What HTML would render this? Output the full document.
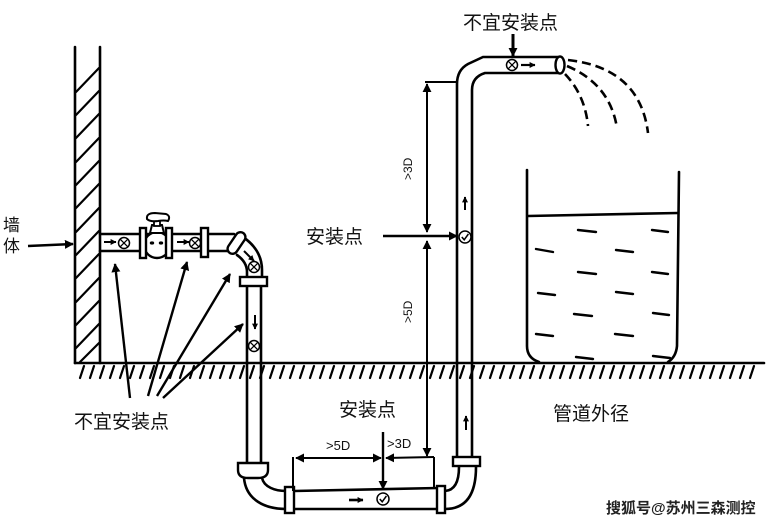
<!DOCTYPE html>
<html><head><meta charset="utf-8"><style>
html,body{margin:0;padding:0;background:#fff;}
svg{display:block;}
text{font-family:"Liberation Sans","Noto Sans CJK SC",sans-serif;fill:#111;}
</style></head><body>
<svg width="776" height="523" viewBox="0 0 776 523" xmlns="http://www.w3.org/2000/svg">
<defs>
<marker id="a" viewBox="0 0 10 10" refX="9" refY="5" markerWidth="9" markerHeight="9" markerUnits="userSpaceOnUse" orient="auto-start-reverse"><path d="M0,0 L10,5 L0,10 z" fill="#000"/></marker>
<marker id="s" viewBox="0 0 10 10" refX="9" refY="5" markerWidth="6" markerHeight="6" markerUnits="userSpaceOnUse" orient="auto-start-reverse"><path d="M0,0 L10,5 L0,10 z" fill="#000"/></marker>
<g id="cx"><circle cx="0" cy="0" r="5.5" fill="#fff" stroke="#000" stroke-width="1.5"/><path d="M-3.6,-3.6 L3.6,3.6 M3.6,-3.6 L-3.6,3.6" stroke="#000" stroke-width="1.3"/></g>
<g id="ck"><circle cx="0" cy="0" r="6" fill="#fff" stroke="#000" stroke-width="1.5"/><path d="M-3.2,0 L-0.8,2.8 L3.4,-3" fill="none" stroke="#000" stroke-width="1.5"/></g>
</defs>

<g stroke="#000" stroke-width="2.6" fill="none" stroke-linecap="round">
<!-- wall -->
<line x1="75" y1="47" x2="75" y2="363"/>
<line x1="100" y1="47" x2="100" y2="363"/>
<path stroke-width="2.2" d="M76 92 L99 68 M76 115 L99 91 M76 138 L99 114 M76 162 L99 138 M76 185 L99 161 M76 208 L99 184 M76 232 L99 208 M76 255 L99 231 M76 278 L99 254 M76 302 L99 278 M76 325 L99 301 M76 348 L99 324 M80 362 L99 343"/>
<!-- ground -->
<line x1="75" y1="363" x2="764" y2="363"/>
<path stroke-width="2.2" d="M84 366 L80 378 M94 366 L90 378 M104 366 L100 378 M114 366 L110 378 M124 366 L120 378 M134 366 L130 378 M144 366 L140 378 M154 366 L150 378 M164 366 L160 378 M174 366 L170 378 M184 366 L180 378 M194 366 L190 378 M204 366 L200 378 M214 366 L210 378 M224 366 L220 378 M234 366 L230 378 M244 366 L240 378 M254 366 L250 378 M264 366 L260 378 M274 366 L270 378 M284 366 L280 378 M294 366 L290 378 M304 366 L300 378 M314 366 L310 378 M324 366 L320 378 M334 366 L330 378 M344 366 L340 378 M354 366 L350 378 M364 366 L360 378 M374 366 L370 378 M384 366 L380 378 M394 366 L390 378 M404 366 L400 378 M414 366 L410 378 M424 366 L420 378 M434 366 L430 378 M444 366 L440 378 M454 366 L450 378 M464 366 L460 378 M474 366 L470 378 M484 366 L480 378 M494 366 L490 378 M504 366 L500 378 M514 366 L510 378 M524 366 L520 378 M534 366 L530 378 M544 366 L540 378 M554 366 L550 378 M564 366 L560 378 M574 366 L570 378 M584 366 L580 378 M594 366 L590 378 M604 366 L600 378 M614 366 L610 378 M624 366 L620 378 M634 366 L630 378 M644 366 L640 378 M654 366 L650 378 M664 366 L660 378 M674 366 L670 378 M684 366 L680 378 M694 366 L690 378 M704 366 L700 378 M714 366 L710 378 M724 366 L720 378 M734 366 L730 378 M744 366 L740 378 M754 366 L750 378"/>

<!-- horizontal pipe near wall -->
<line x1="100" y1="234" x2="234" y2="234"/>
<line x1="100" y1="251" x2="232" y2="251"/>
</g>

<!-- meter -->
<g stroke="#000" stroke-width="2.4" fill="#fff">
<circle cx="157" cy="245" r="13"/>
<rect x="140" y="228" width="6" height="30"/>
<rect x="166" y="228" width="6" height="30"/>
<rect x="201" y="228" width="7" height="29"/>
<path d="M150 233 L152 225 L162 225 L164 233 Z" stroke-width="2"/>
<rect x="154" y="219" width="6" height="7" stroke-width="1.8"/>
<path d="M147 219 Q146 213 155 213 L166 214 Q171 216 168 221 Q164 220 158 221 Q150 222 147 219 Z" stroke-width="2"/>
</g>
<ellipse cx="152" cy="243" rx="2.2" ry="1.6" fill="#000"/>
<ellipse cx="161" cy="243" rx="2.2" ry="1.6" fill="#000"/>

<g stroke="#000" stroke-width="2" fill="none">
<line x1="104" y1="242" x2="116" y2="242" marker-end="url(#s)"/>
<line x1="177" y1="242" x2="189" y2="242" marker-end="url(#s)"/>
</g>
<use href="#cx" x="124" y="243"/>
<use href="#cx" x="195" y="243"/>

<!-- elbow top-left -->
<g stroke="#000" stroke-width="2.6" fill="none" stroke-linecap="round">
<path d="M243 237 Q262 250 262 270 L262 278"/>
<path d="M237 255 Q247 262 247 272 L247 278"/>
<line x1="247" y1="286" x2="247" y2="463"/>
<line x1="261" y1="286" x2="261" y2="463"/>
</g>
<rect x="-5" y="-12" width="10" height="24" rx="5" transform="translate(236.5 243) rotate(34)" fill="#fff" stroke="#000" stroke-width="2.4"/>
<line x1="244" y1="251" x2="254" y2="261" stroke="#000" stroke-width="2" marker-end="url(#s)"/>
<use href="#cx" x="254" y="267"/>
<rect x="240" y="277" width="27" height="9" fill="#fff" stroke="#000" stroke-width="2.4"/>
<line x1="255" y1="315" x2="255" y2="329" stroke="#000" stroke-width="2" marker-end="url(#s)"/>
<use href="#cx" x="254" y="346"/>

<!-- bottom pipe -->
<g stroke="#000" stroke-width="2.6" fill="none" stroke-linecap="round">
<path d="M244 478 C246 500 265 509 286 509"/>
<path d="M262 478 C264 487 275 491 286 491"/>
<line x1="294" y1="491" x2="438" y2="488"/>
<line x1="294" y1="509" x2="438" y2="509"/>
<path d="M445 509 Q476 509 476 467"/>
<path d="M445 491 Q459 490 459 467"/>
<!-- right vertical & top -->
<path d="M457 457 L457 84 Q457 70 468 64 L483 57 L558 57"/>
<path d="M472 457 L472 90 Q472 77 485 73 L558 73"/>
</g>
<path d="M238 463 L268 463 L268 470 Q268 478 258 478 L248 478 Q238 478 238 470 Z" fill="#fff" stroke="#000" stroke-width="2.4"/>
<rect x="285" y="487" width="9" height="26" fill="#fff" stroke="#000" stroke-width="2.4"/>
<rect x="437" y="486" width="8" height="27" fill="#fff" stroke="#000" stroke-width="2.4"/>
<rect x="453" y="457" width="27" height="9" fill="#fff" stroke="#000" stroke-width="2.4"/>
<line x1="349" y1="500" x2="363" y2="500" stroke="#000" stroke-width="2.6" marker-end="url(#s)"/>
<use href="#ck" x="383" y="499"/>

<ellipse cx="560" cy="65" rx="4.5" ry="8.5" fill="#fff" stroke="#000" stroke-width="2.4"/>
<use href="#cx" x="512" y="65"/>
<line x1="521" y1="65" x2="535" y2="65" stroke="#000" stroke-width="2.2" marker-end="url(#s)"/>
<line x1="513" y1="34" x2="513" y2="56" stroke="#000" stroke-width="3" marker-end="url(#a)"/>

<!-- water jets -->
<g stroke="#000" stroke-width="2.6" fill="none" stroke-dasharray="9 5">
<path d="M565 74 Q585 95 588 126"/>
<path d="M567 66 Q610 84 617 128"/>
<path d="M568 60 Q640 68 648 133"/>
</g>

<use href="#ck" x="465" y="237"/>
<line x1="465" y1="210" x2="465" y2="197" stroke="#000" stroke-width="2" marker-end="url(#s)"/>
<line x1="466" y1="430" x2="466" y2="416" stroke="#000" stroke-width="2" marker-end="url(#s)"/>

<!-- dimensions -->
<g stroke="#000" stroke-width="2" fill="none">
<line x1="425" y1="82" x2="457" y2="82"/>
<line x1="427" y1="84" x2="427" y2="232" marker-start="url(#a)" marker-end="url(#a)"/>
<line x1="427" y1="241" x2="427" y2="456" marker-start="url(#a)" marker-end="url(#a)"/>
<line x1="383" y1="236" x2="457" y2="236" stroke-width="2.4" marker-end="url(#a)"/>
<line x1="293" y1="457" x2="293" y2="491"/>
<line x1="434" y1="457" x2="434" y2="488"/>
<line x1="296" y1="458" x2="381" y2="458" marker-start="url(#a)" marker-end="url(#a)"/>
<line x1="386" y1="458" x2="434" y2="457" marker-start="url(#a)"/>
<line x1="383" y1="432" x2="383" y2="489" stroke-width="2.4" marker-end="url(#a)"/>
<!-- left labels arrows -->
<line x1="130" y1="398" x2="115" y2="264" stroke-width="2.4" marker-end="url(#a)"/>
<line x1="148" y1="396" x2="187" y2="262" stroke-width="2.4" marker-end="url(#a)"/>
<line x1="157" y1="396" x2="230" y2="274" stroke-width="2.4" marker-end="url(#a)"/>
<line x1="163" y1="398" x2="243" y2="324" stroke-width="2.4" marker-end="url(#a)"/>
<line x1="28" y1="246" x2="73" y2="244" stroke-width="2.4" marker-end="url(#a)"/>
</g>

<!-- tank -->
<g stroke="#000" stroke-width="2.6" fill="none" stroke-linecap="round">
<path d="M527 170 L527 346 Q527 358 539 362"/>
<path d="M679 172 L677 346 Q676 357 668 362"/>
<line x1="528" y1="216" x2="678" y2="213"/>
<path stroke-width="2.4" d="M578 230 L596 232 M652 230 L668 232 M536 249 L553 252 M616 250 L633 252 M578 272 L596 274 M652 272 L668 274 M538 293 L555 295 M616 292 L633 294 M574 314 L592 316 M653 313 L669 315 M536 334 L553 336 M615 334 L633 336 M576 357 L593 359 M653 356 L670 358"/>
</g>

<!-- texts -->
<text x="3" y="231" font-size="17">墙</text>
<text x="3" y="252" font-size="17">体</text>
<text x="463" y="29" font-size="19">不宜安装点</text>
<text x="74" y="428" font-size="19">不宜安装点</text>
<text x="306" y="243" font-size="19">安装点</text>
<text x="339" y="416" font-size="19">安装点</text>
<text x="553" y="420" font-size="19">管道外径</text>
<text x="326" y="450" font-size="13">&gt;5D</text>
<text x="387" y="448" font-size="13">&gt;3D</text>
<text transform="translate(412 180) rotate(-90)" font-size="12">&gt;3D</text>
<text transform="translate(412 323) rotate(-90)" font-size="12">&gt;5D</text>
<text x="606" y="513" font-size="15" font-weight="bold" style="fill:#222;stroke:#fff;stroke-width:0.6;paint-order:stroke">搜狐号@苏州三森测控</text>
</svg>
</body></html>
